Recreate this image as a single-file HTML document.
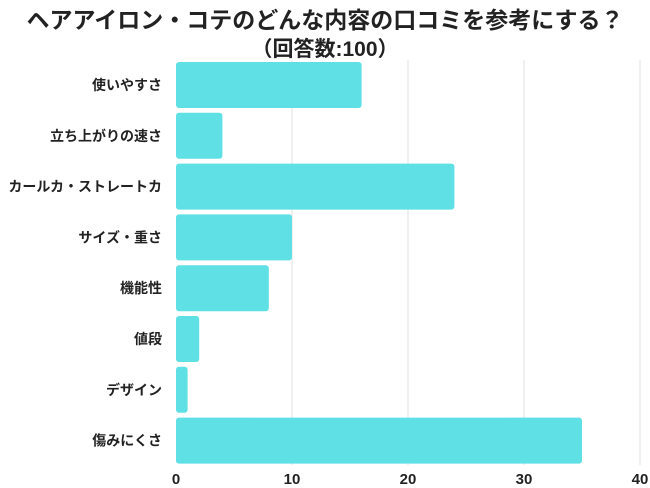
<!DOCTYPE html>
<html><head><meta charset="utf-8">
<style>
html,body{margin:0;padding:0;background:#fff;width:650px;height:488px;overflow:hidden}
svg text{font-family:"Liberation Sans","Noto Sans CJK JP",sans-serif;font-weight:bold;fill:#222}
</style></head>
<body>
<svg id="chart" width="650" height="488" xmlns="http://www.w3.org/2000/svg">
<text x="325" y="28" text-anchor="middle" font-size="23">ヘアアイロン・コテのどんな内容の口コミを参考にする？</text>
<text x="325" y="56" text-anchor="middle" font-size="21">（回答数:100）</text>
<g id="grid"></g><g id="bars"></g><g id="ylabels"></g><g id="xticks"></g>
</svg>
<script>
const categories=["使いやすさ","立ち上がりの速さ","カールカ・ストレートカ","サイズ・重さ","機能性","値段","デザイン","傷みにくさ"];
const values=[16,4,24,10,8,2,1,35];
const tickValues=[0,10,20,30,40];
const NS="http://www.w3.org/2000/svg";
const xLeft=176,xRight=640,xMax=40,yTop=62,band=50.8,barH=46;
const xs=v=>xLeft+(xRight-xLeft)*v/xMax;
function mk(t,a){const e=document.createElementNS(NS,t);for(const k in a)e.setAttribute(k,a[k]);return e;}
const gridG=document.getElementById('grid'),barsG=document.getElementById('bars'),ylG=document.getElementById('ylabels'),xtG=document.getElementById('xticks');
tickValues.forEach(v=>{
  if(v>0){const l=mk('line',{x1:xs(v),x2:xs(v),y1:60,y2:465,stroke:'#e0e0e0','stroke-width':1});
  
  
  gridG.appendChild(l);}
  const t=mk('text',{x:xs(v),y:484,'text-anchor':'middle','font-size':15});
  t.textContent=v;
  
  
  xtG.appendChild(t);
});
categories.forEach((c,i)=>{
  const y=yTop+i*band;
  const r=mk('rect',{x:xLeft,y:y,width:xs(values[i])-xLeft,height:barH,rx:3,fill:'#5ee0e4'});
  
  
  barsG.appendChild(r);
  const t=mk('text',{x:162,y:y+barH/2+5,'text-anchor':'end','font-size':14});
  t.textContent=c;
  
  
  ylG.appendChild(t);
});
</script>
</body></html>
